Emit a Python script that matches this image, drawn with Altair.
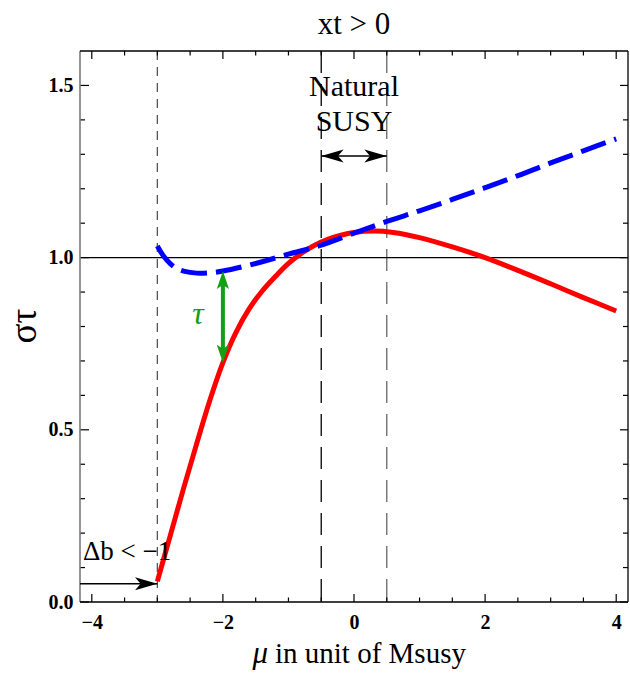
import altair as alt
import pandas as pd

# sigma_tau as a function of mu (in units of Msusy)
mu_red = [-3.0, -2.8, -2.6, -2.4, -2.2, -2.0, -1.8, -1.6, -1.4, -1.2, -1.0, -0.8,
          -0.6, -0.4, -0.2, 0.0, 0.3, 0.6, 1.0, 1.5, 2.0, 2.5, 3.0, 3.5, 4.0]
sig_red = [0.06, 0.195, 0.33, 0.46, 0.585, 0.695, 0.783, 0.851, 0.903, 0.945, 0.983, 1.013,
           1.036, 1.053, 1.065, 1.073, 1.077, 1.073, 1.058, 1.031, 1.0, 0.963, 0.924, 0.884, 0.845]

mu_blue = [-3.0, -2.9, -2.8, -2.7, -2.6, -2.4, -2.2, -2.0, -1.5, -1.0, -0.5, 0.0,
           0.5, 1.0, 1.5, 2.0, 2.5, 3.0, 3.5, 4.0]
sig_blue = [1.034, 1.003, 0.982, 0.968, 0.961, 0.955, 0.956, 0.961, 0.983, 1.01, 1.036, 1.071,
            1.105, 1.136, 1.169, 1.203, 1.238, 1.275, 1.31, 1.345]

# tick marks
x_major = [-4, -2, 0, 2, 4]
x_minor = [-3.5, -3, -2.5, -1.5, -1, -0.5, 0.5, 1, 1.5, 2.5, 3, 3.5]
y_major = [0.0, 0.5, 1.0, 1.5]
y_minor = [0.1, 0.2, 0.3, 0.4, 0.6, 0.7, 0.8, 0.9, 1.1, 1.2, 1.3, 1.4]

# reference lines
mu_cut = [-3.0]           # Delta_b < -1 boundary
mu_natural = [-0.5, 0.5]  # natural SUSY window
sig_ref = [1.0]

# annotations
tau_mu = -2.0
db_arrow_y = 0.053
natural_arrow_y = 1.295

W, H = 548, 551
X_DOM = [-4.18, 4.18]
Y_DOM = [0.0, 1.6]
SERIF = "Liberation Serif"

xs = alt.Scale(domain=X_DOM, nice=False, zero=False)
ys = alt.Scale(domain=Y_DOM, nice=False, zero=False)

x_axis = alt.Axis(values=x_major, format="d", ticks=False, domain=False, grid=False,
                  labelFont=SERIF, labelFontSize=20, labelFontWeight="bold",
                  labelColor="black", labelPadding=10, title=None)
y_axis = alt.Axis(values=y_major, format=".1f", ticks=False, domain=False, grid=False,
                  labelFont=SERIF, labelFontSize=20, labelFontWeight="bold",
                  labelColor="black", labelPadding=7, title=None)


def X(field="x"):
    return alt.X(f"{field}:Q", scale=xs, axis=x_axis)


def Y(field="y"):
    return alt.Y(f"{field}:Q", scale=ys, axis=y_axis)


red_df = pd.DataFrame({"x": mu_red, "y": sig_red})
blue_df = pd.DataFrame({"x": mu_blue, "y": sig_blue})

# frame ticks, pointing inward on all four sides
xmaj = pd.DataFrame({"x": x_major})
xmin = pd.DataFrame({"x": x_minor})
ymaj = pd.DataFrame({"y": y_major})
ymin = pd.DataFrame({"y": y_minor})

ticks = [
    alt.Chart(xmaj).mark_rule(color="black", strokeWidth=1.2).encode(x=X(), y=alt.value(H), y2=alt.value(H - 8)),
    alt.Chart(xmin).mark_rule(color="black", strokeWidth=1.2).encode(x=X(), y=alt.value(H), y2=alt.value(H - 4.5)),
    alt.Chart(xmaj).mark_rule(color="black", strokeWidth=1.2).encode(x=X(), y=alt.value(0), y2=alt.value(8)),
    alt.Chart(xmin).mark_rule(color="black", strokeWidth=1.2).encode(x=X(), y=alt.value(0), y2=alt.value(4.5)),
    alt.Chart(ymaj).mark_rule(color="black", strokeWidth=1.2).encode(y=Y(), x=alt.value(0), x2=alt.value(9)),
    alt.Chart(ymin).mark_rule(color="black", strokeWidth=1.2).encode(y=Y(), x=alt.value(0), x2=alt.value(5)),
    alt.Chart(ymaj).mark_rule(color="black", strokeWidth=1.2).encode(y=Y(), x=alt.value(W), x2=alt.value(W - 8)),
    alt.Chart(ymin).mark_rule(color="black", strokeWidth=1.2).encode(y=Y(), x=alt.value(W), x2=alt.value(W - 5)),
]

edge = pd.DataFrame({"k": [0]})
frame = [
    alt.Chart(edge).mark_rule(color="#7a7a7a", strokeWidth=1.6).encode(x=alt.value(0), y=alt.value(0), y2=alt.value(H)),
    alt.Chart(edge).mark_rule(color="black", strokeWidth=1.3).encode(x=alt.value(0), x2=alt.value(W), y=alt.value(H)),
    alt.Chart(edge).mark_rule(color="black", strokeWidth=1.3).encode(x=alt.value(0), x2=alt.value(W), y=alt.value(0)),
    alt.Chart(edge).mark_rule(color="black", strokeWidth=1.3).encode(x=alt.value(W), y=alt.value(0), y2=alt.value(H)),
]

cut_line = alt.Chart(pd.DataFrame({"x": mu_cut})).mark_rule(
    color="#555555", strokeWidth=1.3, strokeDash=[9, 7]).encode(x=X())
nat_left = alt.Chart(pd.DataFrame({"x": mu_natural[:1]})).mark_rule(
    color="black", strokeWidth=1.3, strokeDash=[22, 11]).encode(x=X())
nat_right = alt.Chart(pd.DataFrame({"x": mu_natural[1:]})).mark_rule(
    color="#666666", strokeWidth=1.3, strokeDash=[22, 11]).encode(x=X())
unit_line = alt.Chart(pd.DataFrame({"y": sig_ref})).mark_rule(
    color="black", strokeWidth=1.1).encode(y=Y())

red_line = alt.Chart(red_df).mark_line(color="#ff0000", strokeWidth=5, interpolate="catmull-rom",
                                       strokeCap="butt").encode(x=X(), y=Y(), order="x:Q")
blue_line = alt.Chart(blue_df).mark_line(color="#0000ff", strokeWidth=5, interpolate="catmull-rom",
                                         strokeDash=[26, 9], strokeCap="butt").encode(x=X(), y=Y(), order="x:Q")

# arrowhead glyphs: tip at the origin, pointing to +x
HEAD = "M0,0 L-2,-0.58 L-1.5,0 L-2,0.58 Z"
HEAD_G = "M0,0 L-2,-0.68 L-1.55,0 L-2,0.68 Z"

# tau gap arrow between the two curves at mu = -2
tau_top = sig_blue[mu_blue.index(tau_mu)]
tau_bot = sig_red[mu_red.index(tau_mu)]
GREEN = "#14a014"
tau_shaft = alt.Chart(pd.DataFrame({"x": [tau_mu], "y": [tau_top - 0.03], "y2": [tau_bot + 0.03]})).mark_rule(
    color=GREEN, strokeWidth=4).encode(x=X(), y=Y(), y2="y2:Q")
tau_up = alt.Chart(pd.DataFrame({"x": [tau_mu], "y": [tau_top]})).mark_point(
    shape=HEAD_G, filled=True, color=GREEN, opacity=1, size=324, angle=270, strokeWidth=0).encode(x=X(), y=Y())
tau_down = alt.Chart(pd.DataFrame({"x": [tau_mu], "y": [tau_bot]})).mark_point(
    shape=HEAD_G, filled=True, color=GREEN, opacity=1, size=324, angle=90, strokeWidth=0).encode(x=X(), y=Y())
tau_label = alt.Chart(pd.DataFrame({"x": [-2.38], "y": [0.836], "t": ["τ"]})).mark_text(
    font=SERIF, fontSize=32, fontStyle="italic", color=GREEN, align="center", baseline="middle").encode(
    x=X(), y=Y(), text="t:N")

# natural SUSY double arrow
nat_shaft = alt.Chart(pd.DataFrame({"x": [mu_natural[0]], "x2": [mu_natural[1]], "y": [natural_arrow_y]})).mark_rule(
    color="black", strokeWidth=1.4).encode(x=X(), x2="x2:Q", y=Y())
nat_l = alt.Chart(pd.DataFrame({"x": [mu_natural[0]], "y": [natural_arrow_y]})).mark_point(
    shape=HEAD, filled=True, color="black", opacity=1, size=500, angle=180, strokeWidth=0).encode(x=X(), y=Y())
nat_r = alt.Chart(pd.DataFrame({"x": [mu_natural[1]], "y": [natural_arrow_y]})).mark_point(
    shape=HEAD, filled=True, color="black", opacity=1, size=500, angle=0, strokeWidth=0).encode(x=X(), y=Y())
nat_text = alt.Chart(pd.DataFrame({"x": [0.0, 0.0], "y": [1.469, 1.369], "t": ["Natural", "SUSY"]})).mark_text(
    font=SERIF, fontSize=30, color="black", align="center", baseline="alphabetic").encode(
    x=X(), y=Y(), text="t:N")

# Delta_b < -1 arrow from the left frame edge to the cut
db_shaft = alt.Chart(pd.DataFrame({"x": [X_DOM[0]], "x2": [mu_cut[0]], "y": [db_arrow_y]})).mark_rule(
    color="black", strokeWidth=1.4).encode(x=X(), x2="x2:Q", y=Y())
db_head = alt.Chart(pd.DataFrame({"x": [mu_cut[0]], "y": [db_arrow_y]})).mark_point(
    shape=HEAD, filled=True, color="black", opacity=1, size=500, angle=0, strokeWidth=0).encode(x=X(), y=Y())
db_text = alt.Chart(pd.DataFrame({"x": [-4.136], "y": [0.121], "t": ["Δb < −1"]})).mark_text(
    font=SERIF, fontSize=27, color="black", align="left", baseline="alphabetic").encode(
    x=X(), y=Y(), text="t:N")

# titles
top_title = alt.Chart(pd.DataFrame({"x": [0.0], "t": ["xt > 0"]})).mark_text(
    font=SERIF, fontSize=31, color="black", align="center", baseline="alphabetic").encode(
    x=X(), y=alt.value(-17), text="t:N")
x_title_mu = alt.Chart(pd.DataFrame({"t": ["μ"]})).mark_text(
    font=SERIF, fontSize=31, fontStyle="italic", color="black", align="right", baseline="alphabetic").encode(
    x=alt.value(188), y=alt.value(612), text="t:N")
x_title_rest = alt.Chart(pd.DataFrame({"t": ["in unit of Msusy"]})).mark_text(
    font=SERIF, fontSize=29, color="black", align="left", baseline="alphabetic").encode(
    x=alt.value(195), y=alt.value(612), text="t:N")
y_title = alt.Chart(pd.DataFrame({"t": ["στ"]})).mark_text(
    font=SERIF, fontSize=37, color="black", align="center", baseline="middle", angle=270).encode(
    x=alt.value(-55), y=alt.value(275), text="t:N")

layers = ([cut_line, nat_left, nat_right, unit_line] + ticks + frame +
          [red_line, blue_line, tau_shaft, tau_up, tau_down, tau_label,
           nat_shaft, nat_l, nat_r, nat_text, db_shaft, db_head, db_text,
           top_title, x_title_mu, x_title_rest, y_title])

chart = alt.layer(*layers).properties(
    width=W, height=H,
    padding={"left": 80, "top": 51, "right": 2, "bottom": 74},
    autosize=alt.AutoSizeParams(type="none"),
    background="white",
).configure_view(stroke=None)

chart.save("out.html", embed_options={"renderer": "svg", "actions": False})
